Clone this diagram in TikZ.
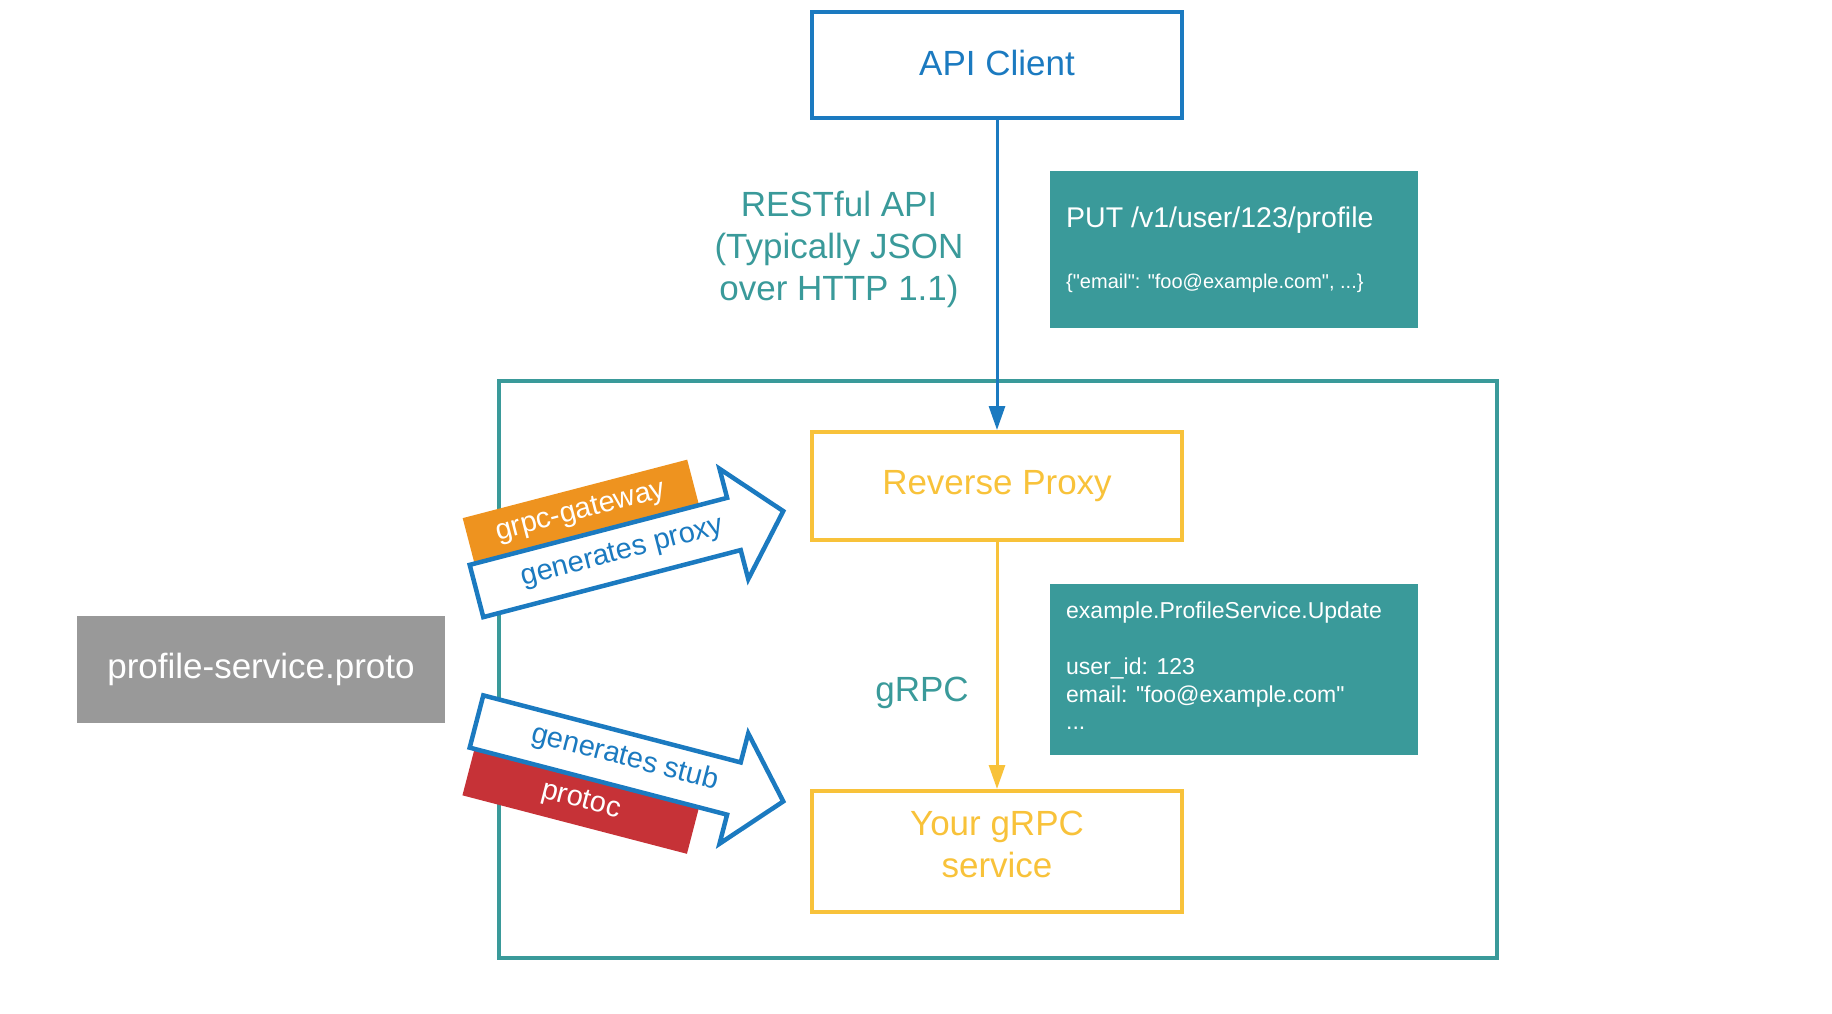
\documentclass[tikz,border=0pt]{standalone}
\usepackage{fontspec}
\newfontfamily\lsans{Liberation Sans}
\usetikzlibrary{arrows.meta}
\definecolor{cblue}{HTML}{1B7AC0}
\definecolor{cteal}{HTML}{3A9A9A}
\definecolor{cgold}{HTML}{F8C23A}
\definecolor{corange}{HTML}{EE931F}
\definecolor{cred}{HTML}{C63237}
\definecolor{cgray}{HTML}{999999}
\tikzset{
  fbig/.style={font=\lsans\fontsize{35}{42}\selectfont},
  fmid/.style={font=\lsans\fontsize{28.5}{34}\selectfont},
  farrow/.style={font=\lsans\fontsize{29}{34}\selectfont},
  fsmall/.style={font=\lsans\fontsize{20}{24}\selectfont},
  fbox/.style={font=\lsans\fontsize{23}{28}\selectfont},
  framebox/.style={draw, line width=4pt, rectangle, minimum width=370pt, inner sep=0pt, fbig, align=center},
  infobox/.style={fill=cteal, rectangle, minimum width=368pt, inner sep=0pt},
  conn/.style={line width=3pt, -{Triangle[width=16pt,length=24pt]}},
  blockarrow/.style={draw=cblue, fill=white, line width=4.5pt, line join=miter},
}
\begin{document}
\begin{tikzpicture}[x=1pt,y=-1pt]
\useasboundingbox (0,0) rectangle (1832,1014);

% container
\node[draw=cteal, line width=4pt, rectangle, minimum width=998pt, minimum height=577pt, inner sep=0pt] (container) at (998,669.5) {};

% boxes
\node[framebox, draw=cblue, text=cblue, minimum height=106pt] (client) at (997,65) {};
\node[fbig, text=cblue] (clientlabel) at (997,63) {API Client};
\node[framebox, draw=cgold, text=cgold, minimum height=108pt] (proxy) at (997,486) {Reverse Proxy};
\node[framebox, draw=cgold, minimum height=121pt] (service) at (997,851.5) {};
\node[fbig, text=cgold, align=center] (servicelabel) at (997,844) {Your gRPC\\service};
\node[fill=cgray, rectangle, minimum width=368pt, minimum height=107pt, inner sep=0pt, fbig, text=white] (proto) at (261,669.5) {profile-service.proto};

% info boxes
\node[infobox, minimum height=157pt] (info1) at (1234,249.5) {};
\node[fmid, text=white, anchor=base west, inner sep=0pt] (put) at (1066,227) {PUT /v1/user/123/profile};
\node[fsmall, text=white, anchor=base west, inner sep=0pt] (body) at (1066,288) {\{"email": "foo@example.com", ...\}};

\node[infobox, minimum height=171pt] (info2) at (1234,669.5) {};
\node[fbox, text=white, anchor=base west, inner sep=0pt] (rpcname) at (1066,618) {example.ProfileService.Update};
\node[fbox, text=white, anchor=base west, inner sep=0pt] (userid) at (1066,674) {user\_id: 123};
\node[fbox, text=white, anchor=base west, inner sep=0pt] (email) at (1066,702) {email: "foo@example.com"};
\node[fbox, text=white, anchor=base west, inner sep=0pt] (dots) at (1066,729) {...};

% labels
\node[fbig, text=cteal, align=center] (rest) at (839,249.5) {RESTful API\\(Typically JSON\\over HTTP 1.1)};
\node[fbig, text=cteal] (grpc) at (922,693) {gRPC};

% connectors
\draw[conn, cblue] (client.south) -- (proxy.north);
\draw[conn, cgold] (proxy.south) -- (service.north);

% upper block arrow
\begin{scope}[shift={(476.5,591)}, rotate=14.6]
  \fill[corange] (5,-74) rectangle (237,-27);
  \draw[blockarrow] (0,-27) -- (266,-27) -- (266,-57) -- (317,0) -- (266,57) -- (266,27) -- (0,27) -- cycle;
  \node[farrow, text=white, transform shape] (gw) at (121,-50) {grpc-gateway};
  \node[farrow, text=cblue, transform shape] (genproxy) at (151,0) {generates proxy};
\end{scope}

% lower block arrow
\begin{scope}[shift={(476.5,721.5)}, rotate=-14.6]
  \fill[cred] (5,27) rectangle (237,75);
  \draw[blockarrow] (0,-27) -- (266,-27) -- (266,-57) -- (317,0) -- (266,57) -- (266,27) -- (0,27) -- cycle;
  \node[farrow, text=white, transform shape] (protoc) at (121,51) {protoc};
  \node[farrow, text=cblue, transform shape] (genstub) at (153,-2) {generates stub};
\end{scope}
\end{tikzpicture}
\end{document}
